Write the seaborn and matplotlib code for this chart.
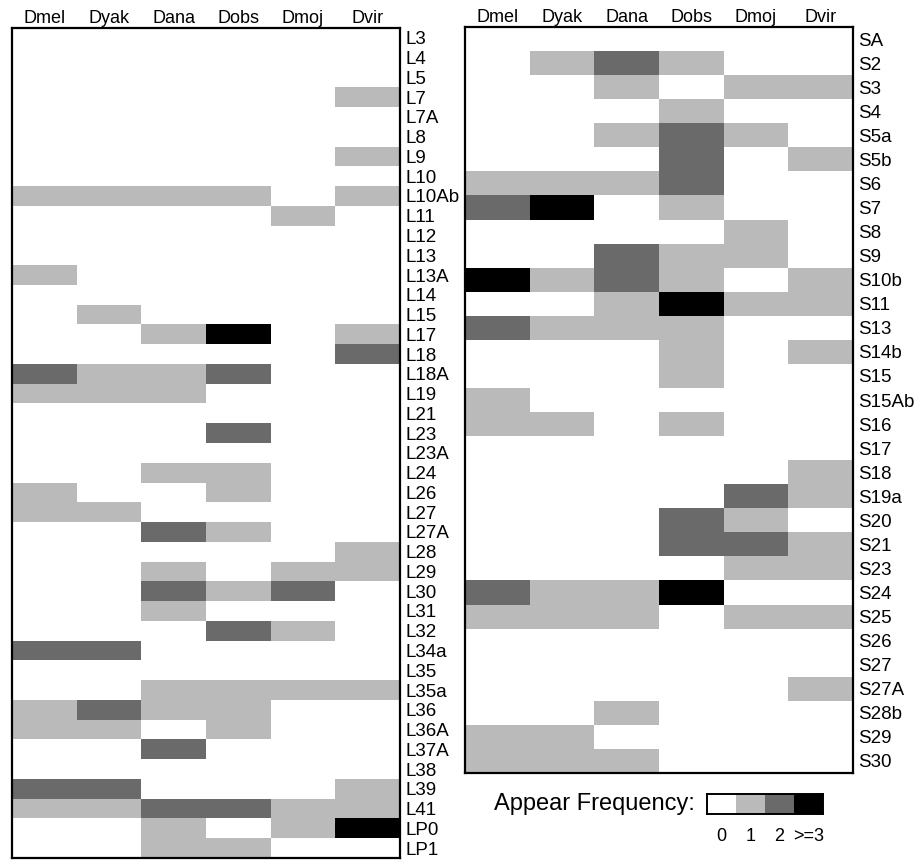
import matplotlib
matplotlib.use("Agg")

import matplotlib.pyplot as plt
import numpy as np
import pandas as pd
import seaborn as sns
from matplotlib.colors import ListedColormap

species = ["Dmel", "Dyak", "Dana", "Dobs", "Dmoj", "Dvir"]

# large-subunit proteins (left panel)
l_rows = ["L3", "L4", "L5", "L7", "L7A", "L8", "L9", "L10", "L10Ab", "L11",
          "L12", "L13", "L13A", "L14", "L15", "L17", "L18", "L18A", "L19", "L21",
          "L23", "L23A", "L24", "L26", "L27", "L27A", "L28", "L29", "L30", "L31",
          "L32", "L34a", "L35", "L35a", "L36", "L36A", "L37A", "L38", "L39", "L41",
          "LP0", "LP1"]
l_freq = [
    [0, 0, 0, 0, 0, 0],
    [0, 0, 0, 0, 0, 0],
    [0, 0, 0, 0, 0, 0],
    [0, 0, 0, 0, 0, 1],
    [0, 0, 0, 0, 0, 0],
    [0, 0, 0, 0, 0, 0],
    [0, 0, 0, 0, 0, 1],
    [0, 0, 0, 0, 0, 0],
    [1, 1, 1, 1, 0, 1],
    [0, 0, 0, 0, 1, 0],
    [0, 0, 0, 0, 0, 0],
    [0, 0, 0, 0, 0, 0],
    [1, 0, 0, 0, 0, 0],
    [0, 0, 0, 0, 0, 0],
    [0, 1, 0, 0, 0, 0],
    [0, 0, 1, 3, 0, 1],
    [0, 0, 0, 0, 0, 2],
    [2, 1, 1, 2, 0, 0],
    [1, 1, 1, 0, 0, 0],
    [0, 0, 0, 0, 0, 0],
    [0, 0, 0, 2, 0, 0],
    [0, 0, 0, 0, 0, 0],
    [0, 0, 1, 1, 0, 0],
    [1, 0, 0, 1, 0, 0],
    [1, 1, 0, 0, 0, 0],
    [0, 0, 2, 1, 0, 0],
    [0, 0, 0, 0, 0, 1],
    [0, 0, 1, 0, 1, 1],
    [0, 0, 2, 1, 2, 0],
    [0, 0, 1, 0, 0, 0],
    [0, 0, 0, 2, 1, 0],
    [2, 2, 0, 0, 0, 0],
    [0, 0, 0, 0, 0, 0],
    [0, 0, 1, 1, 1, 1],
    [1, 2, 1, 1, 0, 0],
    [1, 1, 0, 1, 0, 0],
    [0, 0, 2, 0, 0, 0],
    [0, 0, 0, 0, 0, 0],
    [2, 2, 0, 0, 0, 1],
    [1, 1, 2, 2, 1, 1],
    [0, 0, 1, 0, 1, 3],
    [0, 0, 1, 1, 0, 0],
]

# small-subunit proteins (right panel)
s_rows = ["SA", "S2", "S3", "S4", "S5a", "S5b", "S6", "S7", "S8", "S9",
          "S10b", "S11", "S13", "S14b", "S15", "S15Ab", "S16", "S17", "S18", "S19a",
          "S20", "S21", "S23", "S24", "S25", "S26", "S27", "S27A", "S28b", "S29",
          "S30"]
s_freq = [
    [0, 0, 0, 0, 0, 0],
    [0, 1, 2, 1, 0, 0],
    [0, 0, 1, 0, 1, 1],
    [0, 0, 0, 1, 0, 0],
    [0, 0, 1, 2, 1, 0],
    [0, 0, 0, 2, 0, 1],
    [1, 1, 1, 2, 0, 0],
    [2, 3, 0, 1, 0, 0],
    [0, 0, 0, 0, 1, 0],
    [0, 0, 2, 1, 1, 0],
    [3, 1, 2, 1, 0, 1],
    [0, 0, 1, 3, 1, 1],
    [2, 1, 1, 1, 0, 0],
    [0, 0, 0, 1, 0, 1],
    [0, 0, 0, 1, 0, 0],
    [1, 0, 0, 0, 0, 0],
    [1, 1, 0, 1, 0, 0],
    [0, 0, 0, 0, 0, 0],
    [0, 0, 0, 0, 0, 1],
    [0, 0, 0, 0, 2, 1],
    [0, 0, 0, 2, 1, 0],
    [0, 0, 0, 2, 2, 1],
    [0, 0, 0, 0, 1, 1],
    [2, 1, 1, 3, 0, 0],
    [1, 1, 1, 0, 1, 1],
    [0, 0, 0, 0, 0, 0],
    [0, 0, 0, 0, 0, 0],
    [0, 0, 0, 0, 0, 1],
    [0, 0, 1, 0, 0, 0],
    [1, 1, 0, 0, 0, 0],
    [1, 1, 1, 0, 0, 0],
]

levels = [0, 1, 2, 3]
level_labels = ["0", "1", "2", ">=3"]

sns.set_style("white", {"text.color": "black",
                        "xtick.color": "black",
                        "ytick.color": "black"})
plt.rcParams["font.family"] = ["Liberation Sans", "DejaVu Sans"]

cmap = ListedColormap(["#ffffff", "#bababa", "#6a6a6a", "#000000"])


def draw_panel(ax, freq, rows):
    df = pd.DataFrame(freq, index=rows, columns=species)
    sns.heatmap(df, ax=ax, cmap=cmap, vmin=-0.5, vmax=3.5, cbar=False,
                xticklabels=True, yticklabels=True, linewidths=0)
    ax.xaxis.tick_top()
    ax.yaxis.tick_right()
    ax.tick_params(axis="x", length=0, pad=1, labelsize=13, rotation=0,
                   labelcolor="black")
    ax.tick_params(axis="y", length=0, pad=4, labelsize=13.5, rotation=0,
                   labelcolor="black")
    for lab in ax.get_yticklabels():
        lab.set_ha("left")
    for s in ax.spines.values():
        s.set_visible(True)
        s.set_color("black")
        s.set_linewidth(1.6)
    ax.set_xlabel("")
    ax.set_ylabel("")


fig = plt.figure(figsize=(9.21, 8.61), dpi=100)
ax_l = fig.add_axes([0.013, 0.0035, 0.4213, 0.964])
ax_r = fig.add_axes([0.5049, 0.1022, 0.4213, 0.8664])
draw_panel(ax_l, l_freq, l_rows)
draw_panel(ax_r, s_freq, s_rows)

# frequency key
ax_k = fig.add_axes([0.7676, 0.0546, 0.126, 0.0232])
sns.heatmap(pd.DataFrame([levels]), ax=ax_k, cmap=cmap, vmin=-0.5, vmax=3.5,
            cbar=False, xticklabels=level_labels, yticklabels=False, linewidths=0)
ax_k.tick_params(axis="x", length=0, pad=10, labelsize=13, rotation=0,
                 labelcolor="black")
for s in ax_k.spines.values():
    s.set_visible(True)
    s.set_color("black")
    s.set_linewidth(1.4)
fig.text(0.7546, 0.0662, "Appear Frequency:", ha="right", va="center",
         fontsize=17, color="black")

fig.savefig("out.png", dpi=100)
